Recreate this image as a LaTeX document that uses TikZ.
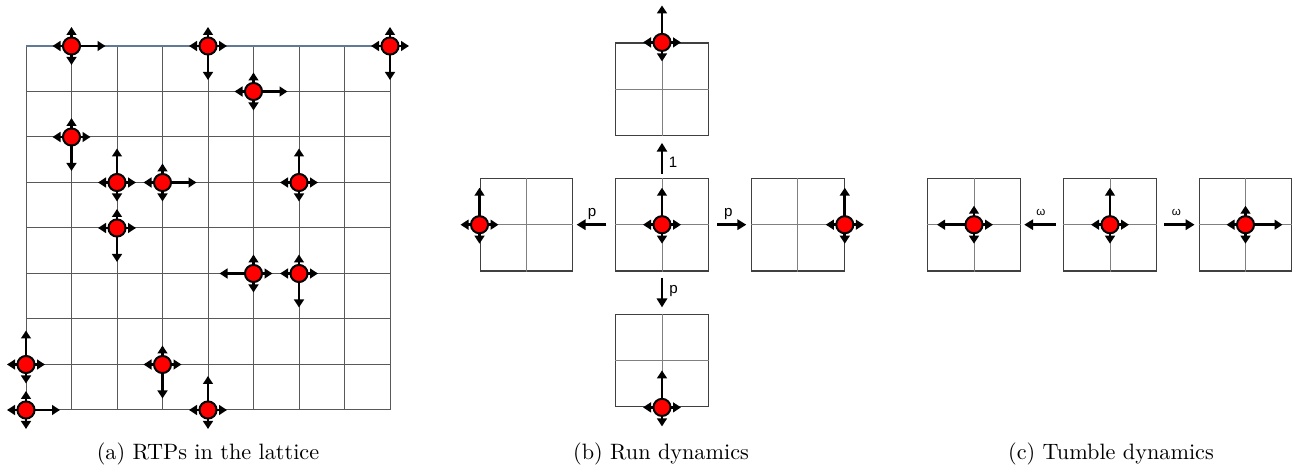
\documentclass[tikz,border=0pt]{standalone}
\usepackage{fontspec}
\newfontfamily\lblfont{Liberation Sans}
\usetikzlibrary{arrows.meta}

\definecolor{edgeblue}{RGB}{96,122,150}

\tikzset{
  gridline/.style={line width=0.45pt, draw=black!65},
  topline/.style={line width=0.5pt, draw=edgeblue},
  cellbox/.style={draw=black!75, line width=0.5pt, minimum size=41.7pt, inner sep=0pt},
  celldiv/.style={draw=black!50, line width=0.45pt},
  rtpdot/.style={circle, draw=black, fill=red, line width=0.9pt, minimum size=7.7pt, inner sep=0pt},
  spin/.style={line width=1.3pt, -{Triangle[length=3.6pt,width=4.4pt]}},
  hop/.style={line width=1.3pt, -{Triangle[length=4pt,width=4.6pt]}},
  rate/.style={font=\lblfont\fontsize{6.8}{8}\selectfont, inner sep=0pt, anchor=base},
  omega/.style={font=\lblfont\fontsize{5.2}{6}\selectfont, inner sep=0pt, anchor=base},
  caption/.style={font=\fontsize{10}{12}\selectfont, inner sep=0pt, anchor=base},
}

% run-and-tumble particle: #1 name, #2 position, #3 direction of the run
% (0 right, 1 up, 2 left, 3 down), #4 length of the run arrow
\newcommand\rtp[4]{%
  \foreach \d/\dx/\dy in {0/1/0,1/0/-1,2/-1/0,3/0/1}{%
    \ifnum\d=#3\relax
      \draw[spin] (#2) -- ++({#4*\dx},{#4*\dy});
    \else
      \draw[spin] (#2) -- ++({19*\dx},{19*\dy});
    \fi}%
  \node[rtpdot] (#1) at (#2) {};}

\begin{document}
\begin{tikzpicture}[x=0.45pt, y=-0.45pt]
\useasboundingbox (0,0) rectangle (1297,474);

% ---------- (a) lattice ----------
\foreach \i in {0,...,8} {
  \draw[gridline] ({26+45.5*\i},46) -- ({26+45.5*\i},410);
}
\foreach \i in {1,...,8} {
  \draw[gridline] (26,{46+45.5*\i}) -- (390,{46+45.5*\i});
}
\draw[topline] (26,46) -- (390,46);

\rtp{p1}{71.5,46}{0}{34}
\rtp{p2}{208,46}{3}{34}
\rtp{p3}{390,46}{3}{34}
\rtp{p4}{253.5,91.5}{0}{34}
\rtp{p5}{71.5,137}{3}{34}
\rtp{p6}{117,182.5}{1}{34}
\rtp{p7}{162.5,182.5}{0}{34}
\rtp{p8}{299,182.5}{1}{34}
\rtp{p9}{117,228}{3}{34}
\rtp{p10}{253.5,273.5}{2}{34}
\rtp{p11}{299,273.5}{3}{34}
\rtp{p12}{26,364.5}{1}{34}
\rtp{p13}{162.5,364.5}{3}{34}
\rtp{p14}{26,410}{0}{34}
\rtp{p15}{208,410}{1}{34}

\node[caption] (capa) at (208,460) {(a) RTPs in the lattice};

% ---------- (b) run dynamics ----------
\node[cellbox] (rc) at (662,224.7) {};
\node[cellbox] (rt) at (662,89.3) {};
\node[cellbox] (rb) at (662,360.5) {};
\node[cellbox] (rl) at (526.4,224.7) {};
\node[cellbox] (rr) at (797.9,224.7) {};
\foreach \b in {rc,rt,rb,rl,rr} {
  \draw[celldiv] (\b.north) -- (\b.south);
  \draw[celldiv] (\b.west) -- (\b.east);
}

\rtp{qc}{rc.center}{1}{37}
\rtp{qt}{rt.north}{1}{37}
\rtp{qb}{rb.south}{1}{37}
\rtp{ql}{rl.west}{1}{37}
\rtp{qr}{rr.east}{1}{37}

\draw[hop, shorten <=1.9pt, shorten >=3pt] (rc.north) -- (rt.south);
\draw[hop, shorten <=2.7pt, shorten >=2.8pt] (rc.south) -- (rb.north);
\draw[hop, shorten <=3.9pt, shorten >=1.5pt] (rc.west) -- (rl.east);
\draw[hop, shorten <=3.8pt, shorten >=2.1pt] (rc.east) -- (rr.west);

\node[rate] (lup) at (673,167.3) {1};
\node[rate] (ldown) at (673.5,293.5) {p};
\node[rate] (lleft) at (592,217) {p};
\node[rate] (lright) at (728.3,217) {p};

\node[caption] (capb) at (661,460) {(b) Run dynamics};

% ---------- (c) tumble dynamics ----------
\node[cellbox] (ta) at (974,224.7) {};
\node[cellbox] (tb) at (1110,224.7) {};
\node[cellbox] (tc) at (1245.5,224.7) {};
\foreach \b in {ta,tb,tc} {
  \draw[celldiv] (\b.north) -- (\b.south);
  \draw[celldiv] (\b.west) -- (\b.east);
}

\rtp{sa}{ta.center}{2}{37}
\rtp{sb}{tb.center}{1}{37}
\rtp{sc}{tc.center}{0}{37}

\draw[hop, shorten <=3.3pt, shorten >=1.5pt] (tb.west) -- (ta.east);
\draw[hop, shorten <=3.3pt, shorten >=1.8pt] (tb.east) -- (tc.west);

\node[omega] (wleft) at (1041,215.3) {ω};
\node[omega] (wright) at (1176.3,215.3) {ω};

\node[caption] (capc) at (1111,460) {(c) Tumble dynamics};
\end{tikzpicture}
\end{document}
